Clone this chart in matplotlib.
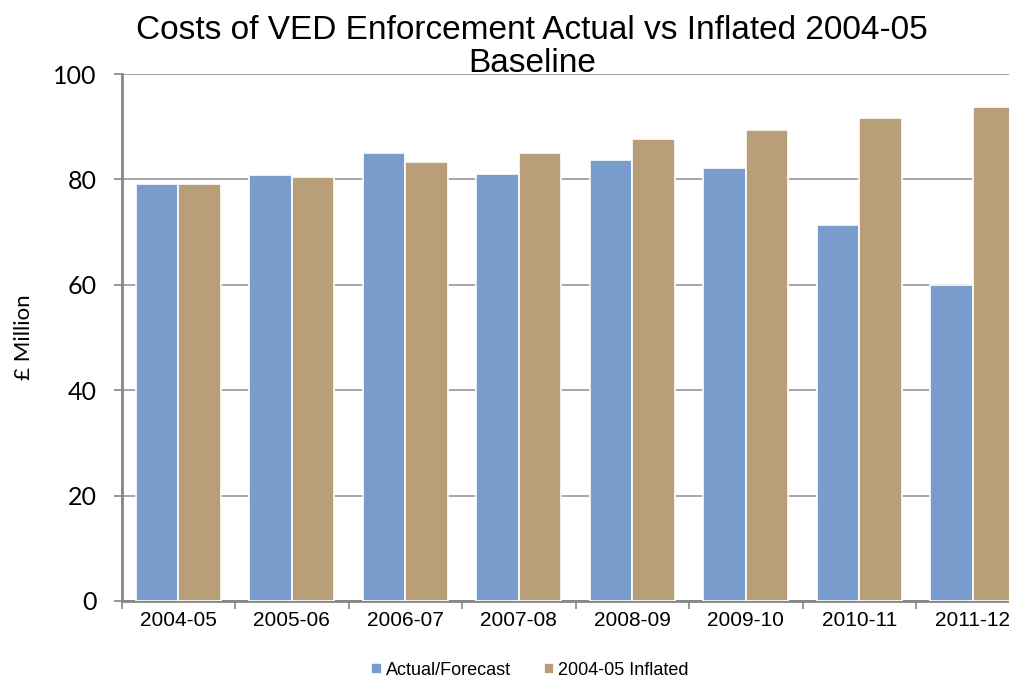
import matplotlib
matplotlib.use("Agg")
import matplotlib.pyplot as plt
import numpy as np

years = ["2004-05", "2005-06", "2006-07", "2007-08",
         "2008-09", "2009-10", "2010-11", "2011-12"]
actual = [79.1, 80.8, 85.1, 81.0, 83.6, 82.1, 71.3, 60.0]
inflated = [79.1, 80.5, 83.3, 85.1, 87.6, 89.4, 91.6, 93.7]

blue = "#789CCB"
tan = "#B89F7A"
grey = "#A6A6A6"

fig = plt.figure(figsize=[10.09, 6.81], dpi=100)
# axes runs past the right edge, like the cropped original
ax = fig.add_axes([121.5 / 1009, 80 / 681, 908 / 1009, 527 / 681])

x = np.arange(len(years))
w = 0.375
ax.bar(x - w / 2, actual, w, color=blue, edgecolor="white", linewidth=1.2,
       label="Actual/Forecast", zorder=3)
ax.bar(x + w / 2, inflated, w, color=tan, edgecolor="white", linewidth=1.2,
       label="2004-05 Inflated", zorder=3)

ax.set_xlim(-0.5, len(years) - 0.5)
ax.set_ylim(0, 100)
ax.set_yticks(np.arange(0, 101, 20))
ax.yaxis.grid(True, color=grey, linewidth=1.4, zorder=0)
ax.set_axisbelow(True)

# category ticks at boundaries, labels at centres
ax.set_xticks(np.arange(-0.5, len(years), 1.0))
ax.set_xticklabels([])
ax.set_xticks(x, minor=True)
ax.set_xticklabels(years, minor=True, fontsize=15, family="Liberation Sans")
ax.tick_params(axis="x", which="minor", length=0, pad=7)
ax.tick_params(axis="x", which="major", length=6, width=1.2, color="#868686")
ax.tick_params(axis="y", length=6, width=1.2, color="#868686", pad=12,
               labelsize=18)
for lab in ax.get_yticklabels():
    lab.set_family("Lato")

for s in ["top", "right"]:
    ax.spines[s].set_visible(False)
for s in ["left", "bottom"]:
    ax.spines[s].set_color("#868686")
    ax.spines[s].set_linewidth(2)

ax.set_ylabel("£ Million", fontsize=16, family="Lato", labelpad=14)

fig.text(532 / 1009, 1 - 47 / 681,
         "Costs of VED Enforcement Actual vs Inflated 2004-05\nBaseline",
         ha="center", va="center", fontsize=24, family="Liberation Sans",
         linespacing=1.12)

fig.legend(loc="upper center", bbox_to_anchor=(530 / 1009, 1 - 662 / 681),
           ncol=2, frameon=False, handlelength=0.6,
           handleheight=0.6, handletextpad=0.2, columnspacing=1.8,
           borderpad=0, borderaxespad=0, prop={"family": "Liberation Sans",
                                                "size": 13})

fig.savefig("out.png", dpi=100)
